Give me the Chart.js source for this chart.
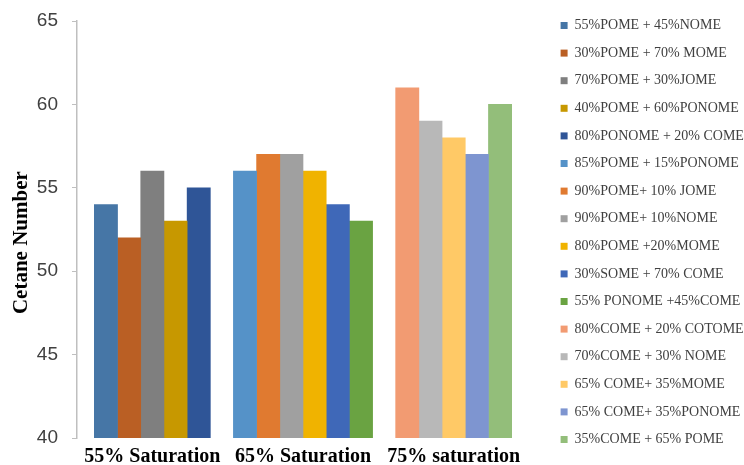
<!DOCTYPE html>
<html>
<head>
<meta charset="utf-8">
<script src="https://cdn.jsdelivr.net/npm/chart.js@4/dist/chart.umd.min.js"></script>
<style>
  html, body { margin: 0; padding: 0; background: #fff; }
  #wrap { width: 744px; height: 465px; }
</style>
</head>
<body>
<div id="wrap"><canvas id="chartCetane"></canvas></div>
<script>
const categories = ['55% Saturation', '65% Saturation', '75% saturation'];

const blendNames = [
    '55%POME + 45%NOME', '30%POME + 70% MOME', '70%POME + 30%JOME', '40%POME + 60%PONOME',
    '80%PONOME + 20% COME', '85%POME + 15%PONOME', '90%POME+ 10% JOME', '90%POME+ 10%NOME',
    '80%POME +20%MOME', '30%SOME + 70% COME', '55% PONOME +45%COME', '80%COME + 20% COTOME',
    '70%COME + 30% NOME', '65% COME+ 35%MOME', '65% COME+ 35%PONOME', '35%COME + 65% POME'
];

// which saturation group each blend belongs to (index into categories)
const blendGroup = [0, 0, 0, 0, 0, 1, 1, 1, 1, 1, 1, 2, 2, 2, 2, 2];

const cetaneValues = [54, 52, 56, 53, 55, 56, 57, 57, 56, 54, 53, 61, 59, 58, 57, 60];

const barColors = [
    '#4676A6', '#BA5F24', '#7F7F7F', '#C79800', '#2F5597', '#5592C8', '#E07A30', '#A0A0A0',
    '#F0B300', '#3F68B8', '#6AA342', '#F29B72', '#B8B8B8', '#FFC966', '#7E95D0', '#93BE7A'
];

const yTicks = [40, 45, 50, 55, 60, 65];

const datasets = blendNames.map((name, i) => ({
    label: name,
    data: categories.map((c, j) => (blendGroup[i] === j ? cetaneValues[i] : null)),
    backgroundColor: barColors[i],
    borderWidth: 0
}));

const ctx = document.getElementById('chartCetane').getContext('2d');
new Chart(ctx, {
    type: 'bar',
    data: { labels: categories, datasets: datasets },
    options: {
        responsive: true,
        maintainAspectRatio: false,
        animation: false,
        datasets: {
            bar: { skipNull: true, barThickness: 23.2 }
        },
        layout: { padding: 0 },
        plugins: {
            legend: {
                position: 'right',
                align: 'center',
                maxWidth: 197,
                labels: {
                    boxWidth: 7,
                    boxHeight: 7,
                    padding: 13.6,
                    color: '#404040',
                    font: { family: "'Liberation Serif', serif", size: 14 }
                }
            },
            tooltip: { enabled: false }
        },
        scales: {
            x: {
                grid: { display: false, drawTicks: false },
                border: { display: false },
                afterFit: (axis) => { axis.height = 27; },
                ticks: {
                    padding: 7,
                    color: '#000',
                    font: { family: "'Liberation Serif', serif", size: 20, weight: 'bold' }
                }
            },
            // empty axes only used to leave room above and right of the plot
            xTop: {
                type: 'category',
                position: 'top',
                grid: { display: false, drawTicks: false },
                border: { display: false },
                ticks: { display: false },
                afterFit: (axis) => { axis.height = 21; }
            },
            y: {
                min: 40,
                max: 65,
                afterBuildTicks: (axis) => { axis.ticks = yTicks.map(v => ({ value: v })); },
                afterFit: (axis) => {
                    axis.width = 77;
                    axis.paddingTop = 11;
                    axis.paddingBottom = 11;
                },
                grid: { drawOnChartArea: false, tickLength: 5, color: '#BFBFBF' },
                border: { display: true, color: '#BFBFBF', width: 1.5 },
                ticks: {
                    padding: 14,
                    color: '#404040',
                    font: { family: "'Liberation Sans', sans-serif", size: 19 }
                },
                title: {
                    display: true,
                    // trailing spaces push the centred title a little lower, as in the original
                    text: 'Cetane Number     ',
                    color: '#000',
                    padding: { top: 9, bottom: 4 },
                    font: { family: "'Liberation Serif', serif", size: 21, weight: 'bold' }
                }
            },
            yRight: {
                position: 'right',
                grid: { display: false, drawTicks: false },
                border: { display: false },
                ticks: { display: false },
                afterFit: (axis) => { axis.width = 18; }
            }
        }
    }
});
</script>
</body>
</html>
